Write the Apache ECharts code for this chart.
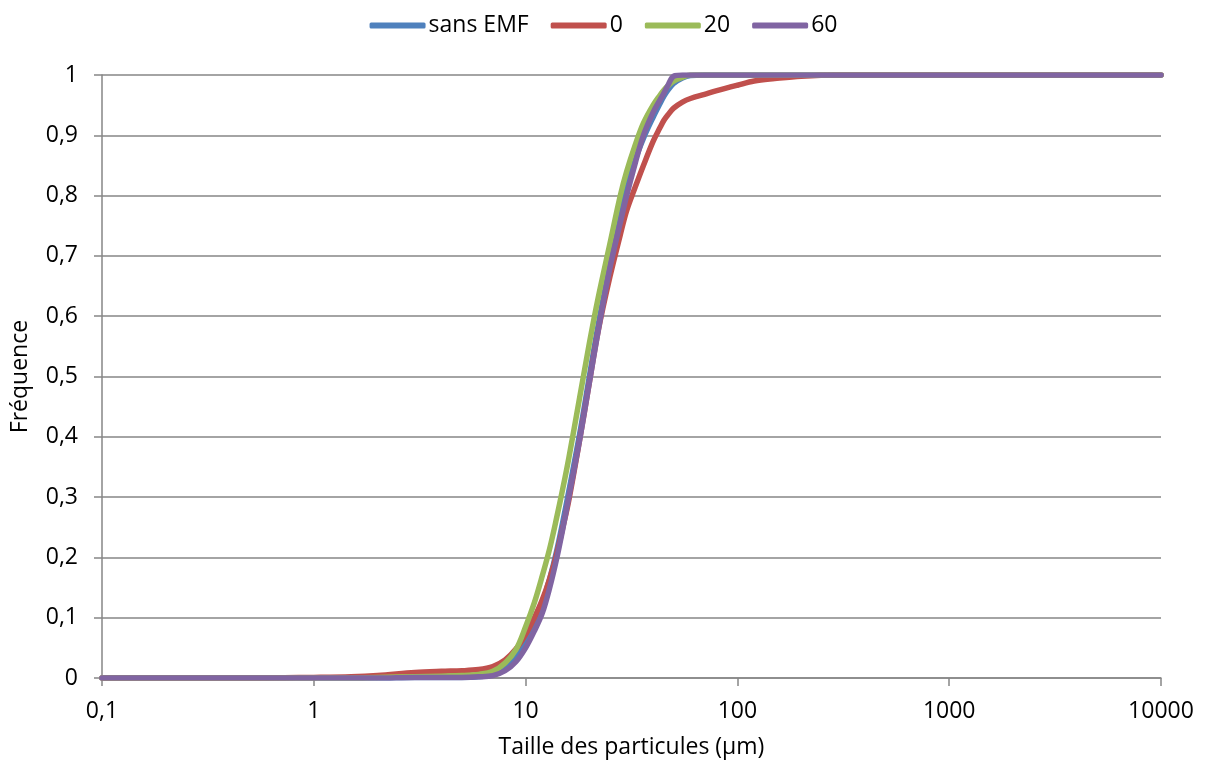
<!DOCTYPE html>
<html><head><meta charset="utf-8">
<script src="https://cdn.jsdelivr.net/npm/echarts@6/dist/echarts.min.js"></script>
<style>html,body{margin:0;padding:0;background:#fff}#c{width:1207px;height:767px}</style>
</head><body><div id="c"></div>
<script>
const sizes      = [0.1, 0.5, 1, 1.5, 2, 3, 4, 5, 6, 7, 8, 9, 10, 11, 12, 13, 14, 15, 16, 18, 20, 22, 25, 28, 30, 33, 36, 40, 43, 45, 47, 50, 55, 60, 70, 80, 100, 120, 150, 200, 300, 1000, 10000];
const sansEMF    = [0, 0, 0, 0, 0, 0.001, 0.001, 0.001, 0.002, 0.006, 0.016, 0.033, 0.058, 0.09, 0.125, 0.165, 0.21, 0.26, 0.31, 0.405, 0.5, 0.585, 0.685, 0.765, 0.81, 0.86, 0.895, 0.93, 0.952, 0.965, 0.975, 0.986, 0.995, 0.999, 1, 1, 1, 1, 1, 1, 1, 1, 1];
const emf0       = [0, 0, 0.001, 0.002, 0.004, 0.009, 0.011, 0.012, 0.014, 0.019, 0.03, 0.048, 0.072, 0.1, 0.13, 0.165, 0.205, 0.25, 0.295, 0.395, 0.49, 0.575, 0.665, 0.735, 0.775, 0.815, 0.85, 0.89, 0.912, 0.925, 0.934, 0.945, 0.955, 0.961, 0.968, 0.974, 0.983, 0.99, 0.994, 0.998, 1, 1, 1];
const emf20      = [0, 0, 0, 0, 0.001, 0.002, 0.003, 0.004, 0.006, 0.011, 0.025, 0.047, 0.085, 0.125, 0.17, 0.215, 0.265, 0.315, 0.365, 0.465, 0.555, 0.63, 0.72, 0.80, 0.84, 0.885, 0.92, 0.95, 0.966, 0.975, 0.982, 0.99, 0.996, 1, 1, 1, 1, 1, 1, 1, 1, 1, 1];
const emf60      = [0, 0, 0, 0, 0, 0.001, 0.001, 0.001, 0.002, 0.004, 0.012, 0.027, 0.05, 0.078, 0.108, 0.15, 0.197, 0.248, 0.30, 0.395, 0.49, 0.575, 0.68, 0.755, 0.80, 0.855, 0.90, 0.938, 0.958, 0.97, 0.983, 0.998, 1, 1, 1, 1, 1, 1, 1, 1, 1, 1, 1];
const seriesNames = ['sans EMF', '0', '20', '60'];
const seriesData  = [sansEMF, emf0, emf20, emf60];
const colors      = ['#4F81BD', '#C0504D', '#9BBB59', '#8064A2'];

const font = '"Open Sans", "Liberation Sans", sans-serif';
const chart = echarts.init(document.getElementById('c'));
chart.setOption({
  animation: false,
  color: colors,
  legend: {
    top: 9, left: 'center',
    itemWidth: 56, itemHeight: 6, itemGap: 22,
    icon: 'roundRect',
    textStyle: { fontFamily: font, fontSize: 23, color: '#000', padding: [0, 0, 0, -2] },
    data: seriesNames
  },
  grid: { left: 102, right: 46, top: 75, bottom: 89, containLabel: false, outerBoundsMode: 'none' },
  xAxis: {
    type: 'log', logBase: 10, min: 0.1, max: 10000,
    name: 'Taille des particules (µm)', nameLocation: 'middle', nameGap: 58,
    nameTextStyle: { fontFamily: font, fontSize: 23, color: '#000' },
    axisLine: { lineStyle: { color: '#868686', width: 1.5 } },
    axisTick: { show: true, length: 8, lineStyle: { color: '#868686', width: 1.5 } },
    splitLine: { show: false },
    minorTick: { show: false },
    axisLabel: {
      fontFamily: font, fontSize: 23, color: '#000', margin: 22,
      formatter: v => String(+(+v).toPrecision(6)).replace('.', ',')
    }
  },
  yAxis: {
    type: 'value', min: 0, max: 1, interval: 0.1,
    name: 'Fréquence', nameLocation: 'middle', nameGap: 70, nameRotate: 90,
    nameTextStyle: { fontFamily: font, fontSize: 23, color: '#000' },
    axisLine: { show: true, lineStyle: { color: '#868686', width: 1.5 } },
    axisTick: { show: true, length: 8, lineStyle: { color: '#868686', width: 1.5 } },
    splitLine: { lineStyle: { color: '#868686', width: 1.5 } },
    axisLabel: {
      fontFamily: font, fontSize: 23, color: '#000', margin: 24,
      formatter: v => (v === 0 ? '0' : (Math.abs(v - 1) < 1e-9 ? '1' : v.toFixed(1).replace('.', ',')))
    }
  },
  series: seriesNames.map((n, i) => ({
    name: n, type: 'line', showSymbol: false, smooth: 0.35,
    lineStyle: { width: 5.5, color: colors[i], cap: 'round', join: 'round' },
    itemStyle: { color: colors[i] },
    data: sizes.map((s, k) => [s, seriesData[i][k]])
  }))
});
</script></body></html>
